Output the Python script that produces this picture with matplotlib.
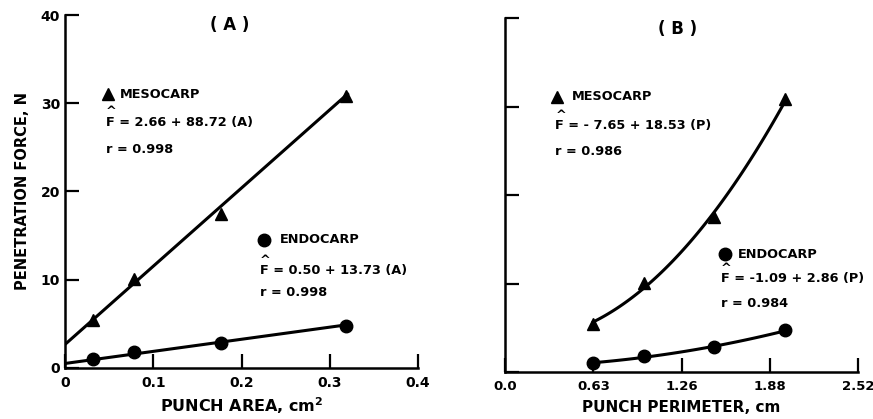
import numpy as np
import matplotlib.pyplot as plt

plt.rcParams['font.family'] = ['DejaVu Sans']
plt.rcParams['font.weight'] = 'bold'

# punch data (area, perimeter) and penetration force, N
punch_area = [0.0314, 0.0785, 0.177, 0.318]
punch_perimeter = [0.63, 0.99, 1.49, 2.00]
force_mesocarp = [5.4, 10.1, 17.5, 30.8]
force_endocarp = [1.0, 1.8, 2.8, 4.7]

# regression coefficients printed on panel A
coef_meso_area = (2.66, 88.72)
coef_endo_area = (0.50, 13.73)

x_ticks_a = [0, 0.1, 0.2, 0.3, 0.4]
x_labels_a = ['0', '0.1', '0.2', '0.3', '0.4']
x_ticks_b = [0, 0.63, 1.26, 1.89, 2.52]
x_labels_b = ['0.0', '0.63', '1.26', '1.88', '2.52']
y_ticks = [0, 10, 20, 30, 40]

fig = plt.figure(figsize=(8.73, 4.19), dpi=100)
ax_a = fig.add_axes([0.0745, 0.122, 0.4045, 0.842])
ax_b = fig.add_axes([0.5785, 0.112, 0.4045, 0.845])

LW = 2.2
TXT = dict(fontsize=9.3, fontweight='bold')


def style_axes(ax, xt, xl, xmax):
    ax.set_xlim(0, xmax)
    ax.set_ylim(0, 40)
    for s in ['top', 'right']:
        ax.spines[s].set_visible(False)
    for s in ['left', 'bottom']:
        ax.spines[s].set_linewidth(1.8)
    ax.set_xticks(xt)
    ax.set_xticklabels(xl)
    ax.set_yticks(y_ticks)
    ax.tick_params(direction='in', length=10, width=1.6, labelsize=10)
    ax.tick_params(axis='x', pad=6)


def hat_label(ax, x, y, s):
    # F with a circumflex above it, one text block; y is centre of the F line
    ax.text(x, y - 0.78, '^\n' + s, va='bottom', linespacing=0.72, **TXT)


# ---- panel A
style_axes(ax_a, x_ticks_a, x_labels_a, 0.4)
ax_a.set_yticklabels([str(v) for v in y_ticks])
xa = np.linspace(0, 0.32, 50)
ax_a.plot(xa, coef_meso_area[0] + coef_meso_area[1] * xa, color='black', lw=LW)
ax_a.plot(xa, coef_endo_area[0] + coef_endo_area[1] * xa, color='black', lw=LW)
ax_a.plot(punch_area, force_mesocarp, '^', color='black', ms=9, clip_on=False)
ax_a.plot(punch_area, force_endocarp, 'o', color='black', ms=9, clip_on=False)
ax_a.set_ylabel('PENETRATION FORCE, N', fontsize=10.5, fontweight='bold', labelpad=8)
ax_a.set_xlabel('PUNCH AREA, cm$^\\mathbf{2}$', fontsize=11.5, fontweight='bold', labelpad=4)
ax_a.text(0.187, 38.9, '( A )', ha='center', va='center', fontsize=12, fontweight='bold')

ax_a.plot([0.049], [31.0], '^', color='black', ms=9)
ax_a.text(0.062, 31.0, 'MESOCARP', va='center', **TXT)
hat_label(ax_a, 0.046, 27.9, 'F = 2.66 + 88.72 (A)')
ax_a.text(0.046, 24.8, 'r = 0.998', va='center', **TXT)

ax_a.plot([0.225], [14.5], 'o', color='black', ms=9)
ax_a.text(0.243, 14.5, 'ENDOCARP', va='center', **TXT)
hat_label(ax_a, 0.221, 11.1, 'F = 0.50 + 13.73 (A)')
ax_a.text(0.221, 8.5, 'r = 0.998', va='center', **TXT)

# ---- panel B
style_axes(ax_b, x_ticks_b, x_labels_b, 2.52)
ax_b.tick_params(axis='x', labelsize=9.5)
ax_b.set_yticklabels([])
xb = np.linspace(punch_perimeter[0], punch_perimeter[-1], 80)
fit_meso = np.polyfit(punch_perimeter, force_mesocarp, 2)
fit_endo = np.polyfit(punch_perimeter, force_endocarp, 2)
ax_b.plot(xb, np.polyval(fit_meso, xb), color='black', lw=LW)
ax_b.plot(xb, np.polyval(fit_endo, xb), color='black', lw=LW)
ax_b.plot(punch_perimeter, force_mesocarp, '^', color='black', ms=9, clip_on=False)
ax_b.plot(punch_perimeter, force_endocarp, 'o', color='black', ms=9, clip_on=False)
ax_b.set_xlabel('PUNCH PERIMETER, cm', fontsize=11, fontweight='bold', labelpad=5)
ax_b.text(1.23, 38.8, '( B )', ha='center', va='center', fontsize=12, fontweight='bold')

ax_b.plot([0.37], [31.1], '^', color='black', ms=9)
ax_b.text(0.48, 31.1, 'MESOCARP', va='center', **TXT)
hat_label(ax_b, 0.36, 27.9, 'F = - 7.65 + 18.53 (P)')
ax_b.text(0.36, 24.9, 'r = 0.986', va='center', **TXT)

ax_b.plot([1.57], [13.3], 'o', color='black', ms=9)
ax_b.text(1.66, 13.3, 'ENDOCARP', va='center', **TXT)
hat_label(ax_b, 1.54, 10.6, 'F = -1.09 + 2.86 (P)')
ax_b.text(1.54, 7.8, 'r = 0.984', va='center', **TXT)

fig.savefig('out.png', dpi=100)
